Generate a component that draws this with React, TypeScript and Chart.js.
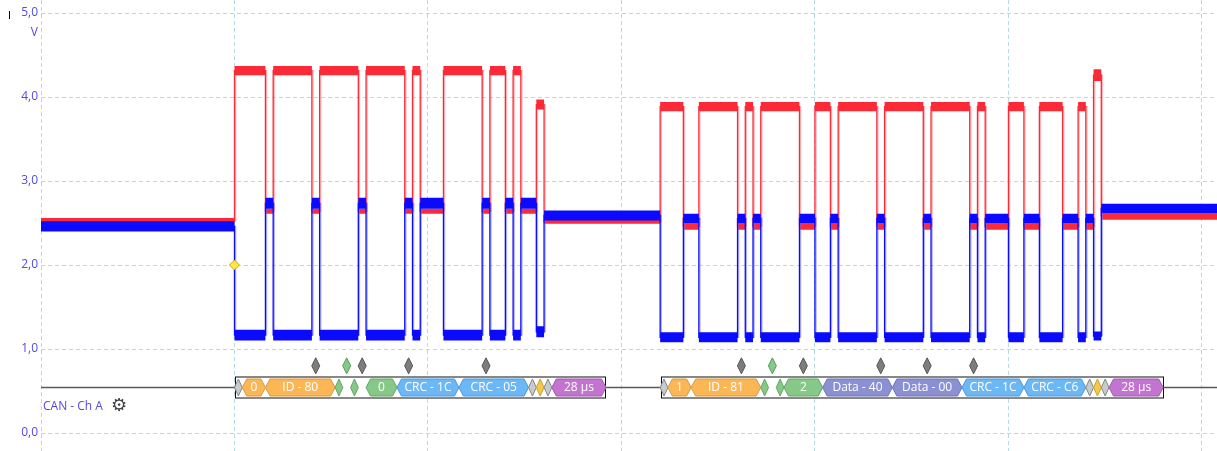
import React, { useEffect, useRef } from 'react';
import { Chart, registerables } from 'chart.js';

Chart.register(...registerables);

// ---------- axes ----------
const xTicks = [-50, 0, 50, 100, 150, 200, 250]; // µs, one division = 50 µs
const yTicks = [0, 1, 2, 3, 4, 5]; // V
const X_MIN = -50;
const X_MAX = 253.9;
const Y_MIN = -0.214;
const Y_MAX = 5.155;

// ---------- waveform (edge times in µs, alternating dominant / recessive start, last = back to idle) ----------
const frame1Edges = [0, 8, 10, 20, 22, 32, 34, 44, 46, 48, 54, 64, 66, 70, 72, 74, 78, 80];
const frame2Edges = [110, 116, 120, 130, 132, 134, 136, 146, 150, 154, 156, 166, 168, 178, 180, 190, 192, 194, 200, 204, 208, 214, 218, 220, 222, 224];
const idleSpans = [[X_MIN, 0], [80, 110], [224, X_MAX]];

// levels [low, high] in V
const canHIdle = [[2.49, 2.56], [2.49, 2.54], [2.54, 2.63]];
const canLIdle = [[2.40, 2.52], [2.53, 2.65], [2.62, 2.73]];
const canHDominant = [[4.26, 4.37], [3.83, 3.94]];
const canLDominant = [[1.10, 1.23], [1.08, 1.20]];
const canHRecessive = [[2.61, 2.67], [2.42, 2.50]];
const canLRecessive = [[2.67, 2.80], [2.50, 2.61]];
const canHAck = [[3.85, 3.97], [4.19, 4.33]];
const canLAck = [[1.14, 1.27], [1.10, 1.21]];

// ---------- decoded fields [kind, from µs, to µs, label] ----------
const frame1Fields: [string, number, number, string][] = [
  ['delim', 0, 2, ''],
  ['id', 2, 8, '0'],
  ['id', 8, 26, 'ID - 80'],
  ['ctrl', 26, 28, ''],
  ['ctrl', 30, 32, ''],
  ['ctrl', 34, 42, '0'],
  ['crc', 42, 58, 'CRC - 1C'],
  ['crc', 58, 76, 'CRC - 05'],
  ['delim', 76, 78, ''],
  ['ack', 78, 80, ''],
  ['delim', 80, 82, ''],
  ['ifs', 82, 96, '28 µs'],
];
const frame2Fields: [string, number, number, string][] = [
  ['delim', 110, 112, ''],
  ['id', 112, 118, '1'],
  ['id', 118, 136, 'ID - 81'],
  ['ctrl', 136, 138, ''],
  ['ctrl', 140, 142, ''],
  ['ctrl', 142, 152, '2'],
  ['data', 152, 170, 'Data - 40'],
  ['data', 170, 188, 'Data - 00'],
  ['crc', 188, 204, 'CRC - 1C'],
  ['crc', 204, 220, 'CRC - C6'],
  ['delim', 220, 222, ''],
  ['ack', 222, 224, ''],
  ['delim', 224, 226, ''],
  ['ifs', 226, 240, '28 µs'],
];
const stuffMarks = [21, 33, 45, 65, 131, 147, 167, 179, 191];
const stuffMarksGreen = [29, 139];

const decodeLevel = 0.548; // V position of the decode bar
const markerLevel = 0.80;
const channelLabel = 'CAN - Ch A';
const unitLabel = 'V';

// ---------- styles ----------
const RED = '#fb2a36';
const BLUE = '#0a0aff';
const TEXT_BLUE = '#5348e4';
const GRID = '#b4dbe6';
const FIELD_FILL: Record<string, string> = {
  delim: '#c7cbce',
  id: '#fbb656',
  ctrl: '#86c888',
  crc: '#6cb8f6',
  data: '#8b90d2',
  ack: '#f6c848',
  ifs: '#c374d0',
};
const FIELD_STROKE: Record<string, string> = {
  delim: '#858585',
  id: '#d99a45',
  ctrl: '#62a865',
  crc: '#4f98d6',
  data: '#6f74b6',
  ack: '#c9a030',
  ifs: '#a159ae',
};

type Seg = { from: number; to: number; lo: number; hi: number };

function frameSegments(edges: number[], dom: number[], rec: number[], ack: number[]): Seg[] {
  const out: Seg[] = [];
  for (let i = 0; i < edges.length - 1; i++) {
    const lvl = i % 2 === 0 ? (i === edges.length - 2 ? ack : dom) : rec;
    out.push({ from: edges[i], to: edges[i + 1], lo: lvl[0], hi: lvl[1] });
  }
  return out;
}

function signalSegments(idle: number[][], dom: number[][], rec: number[][], ack: number[][]): Seg[] {
  return [
    { from: idleSpans[0][0], to: idleSpans[0][1], lo: idle[0][0], hi: idle[0][1] },
    ...frameSegments(frame1Edges, dom[0], rec[0], ack[0]),
    { from: idleSpans[1][0], to: idleSpans[1][1], lo: idle[1][0], hi: idle[1][1] },
    ...frameSegments(frame2Edges, dom[1], rec[1], ack[1]),
    { from: idleSpans[2][0], to: idleSpans[2][1], lo: idle[2][0], hi: idle[2][1] },
  ];
}

function toPoints(segs: Seg[], f: (s: Seg) => number) {
  return segs.flatMap((s) => [
    { x: s.from, y: f(s) },
    { x: s.to, y: f(s) },
  ]);
}

function signalDatasets(segs: Seg[], color: string, halo: string) {
  return [
    {
      data: toPoints(segs, (s) => s.hi),
      borderWidth: 0,
      borderColor: 'rgba(0,0,0,0)',
      pointRadius: 0,
      fill: false,
    },
    {
      data: toPoints(segs, (s) => s.lo),
      borderWidth: 0,
      borderColor: 'rgba(0,0,0,0)',
      backgroundColor: color,
      pointRadius: 0,
      fill: '-1',
    },
    {
      data: toPoints(segs, (s) => (s.lo + s.hi) / 2),
      borderWidth: 1.3,
      borderColor: color,
      pointRadius: 0,
      fill: false,
    },
    {
      data: toPoints(segs, (s) => (s.lo + s.hi) / 2).map((p) => ({ x: p.x + 0.3, y: p.y })),
      borderWidth: 1.2,
      borderColor: halo,
      pointRadius: 0,
      fill: false,
    },
  ];
}

function hexPath(ctx: CanvasRenderingContext2D, x0: number, x1: number, yc: number, h: number, d: number) {
  const dd = Math.min(d, (x1 - x0) / 2);
  ctx.beginPath();
  ctx.moveTo(x0, yc);
  ctx.lineTo(x0 + dd, yc - h);
  ctx.lineTo(x1 - dd, yc - h);
  ctx.lineTo(x1, yc);
  ctx.lineTo(x1 - dd, yc + h);
  ctx.lineTo(x0 + dd, yc + h);
  ctx.closePath();
}

const decodePlugin = {
  id: 'decodeBar',
  afterDatasetsDraw(chart: any) {
    const { ctx, chartArea } = chart;
    const xs = chart.scales.x;
    const ys = chart.scales.y;
    const yc = Math.round(ys.getPixelForValue(decodeLevel)) + 0.5;
    ctx.save();
    // bus line
    ctx.strokeStyle = '#5a5a5a';
    ctx.lineWidth = 1.5;
    ctx.beginPath();
    ctx.moveTo(chartArea.left, yc);
    ctx.lineTo(chartArea.right, yc);
    ctx.stroke();

    const frames = [frame1Fields, frame2Fields];
    for (const fields of frames) {
      const bx0 = xs.getPixelForValue(fields[0][1]) + 1;
      const bx1 = xs.getPixelForValue(fields[fields.length - 1][2]);
      ctx.fillStyle = '#ffffff';
      ctx.fillRect(bx0, yc - 10.5, bx1 - bx0, 21);
      ctx.strokeStyle = '#111';
      ctx.lineWidth = 1;
      ctx.strokeRect(Math.round(bx0) + 0.5, yc - 10.5, Math.round(bx1 - bx0), 21);
      for (const [kind, a, b, label] of fields) {
        const x0 = xs.getPixelForValue(a);
        const x1 = xs.getPixelForValue(b);
        hexPath(ctx, x0, x1, yc, 8.5, 4.5);
        ctx.fillStyle = FIELD_FILL[kind];
        ctx.fill();
        ctx.strokeStyle = FIELD_STROKE[kind];
        ctx.lineWidth = 1;
        ctx.stroke();
        if (label) {
          ctx.fillStyle = '#ffffff';
          ctx.font = '12px "Open Sans"';
          ctx.textAlign = 'center';
          ctx.textBaseline = 'middle';
          ctx.fillText(label, (x0 + x1) / 2, yc + 0.5);
        }
      }
    }

    // stuff-bit markers
    const my = ys.getPixelForValue(markerLevel);
    const drawMark = (t: number, fill: string, stroke: string) => {
      const mx = xs.getPixelForValue(t);
      ctx.beginPath();
      ctx.moveTo(mx, my - 8);
      ctx.lineTo(mx + 4, my);
      ctx.lineTo(mx, my + 8);
      ctx.lineTo(mx - 4, my);
      ctx.closePath();
      ctx.fillStyle = fill;
      ctx.fill();
      ctx.strokeStyle = stroke;
      ctx.lineWidth = 1;
      ctx.stroke();
    };
    stuffMarks.forEach((t) => drawMark(t, '#7d7d7d', '#555'));
    stuffMarksGreen.forEach((t) => drawMark(t, '#86c888', '#5a9a5c'));

    // trigger diamond
    const tx = xs.getPixelForValue(0);
    const ty = ys.getPixelForValue(2);
    ctx.beginPath();
    ctx.moveTo(tx, ty - 5);
    ctx.lineTo(tx + 5, ty);
    ctx.lineTo(tx, ty + 5);
    ctx.lineTo(tx - 5, ty);
    ctx.closePath();
    ctx.fillStyle = '#ffe94a';
    ctx.fill();
    ctx.strokeStyle = '#c9a400';
    ctx.stroke();

    // channel label + gear
    const ly = ys.getPixelForValue(0.32);
    ctx.fillStyle = TEXT_BLUE;
    ctx.font = '12px "Open Sans"';
    ctx.textAlign = 'left';
    ctx.textBaseline = 'middle';
    ctx.fillText(channelLabel, chartArea.left + 2, ly);
    const w = ctx.measureText(channelLabel).width;
    ctx.fillStyle = '#444';
    ctx.font = 'bold 18px "DejaVu Sans"';
    ctx.fillText('⚙', chartArea.left + 2 + w + 8, ly);

    // unit label under top tick
    ctx.fillStyle = TEXT_BLUE;
    ctx.font = '12px "Open Sans"';
    ctx.textAlign = 'right';
    ctx.fillText(unitLabel, chartArea.left - 3, ys.getPixelForValue(5) + 20);

    // small cursor tick at top-left
    ctx.strokeStyle = '#000';
    ctx.lineWidth = 1;
    ctx.beginPath();
    ctx.moveTo(9.5, 11);
    ctx.lineTo(9.5, 19);
    ctx.stroke();
    ctx.restore();
  },
};

export default function App() {
  const ref = useRef<HTMLCanvasElement>(null);
  useEffect(() => {
    document.body.style.margin = '0';
    const blue = signalSegments(canLIdle, canLDominant, canLRecessive, canLAck);
    const red = signalSegments(canHIdle, canHDominant, canHRecessive, canHAck);
    const chart = new Chart(ref.current!, {
      type: 'line',
      data: {
        datasets: [
          ...signalDatasets(blue, BLUE, 'rgba(110,110,255,0.55)'),
          ...signalDatasets(red, RED, 'rgba(255,120,130,0.55)'),
        ] as any,
      },
      options: {
        animation: false,
        responsive: false,
        maintainAspectRatio: false,
        parsing: false,
        normalized: true,
        layout: { padding: 0 },
        plugins: { legend: { display: false }, tooltip: { enabled: false } },
        elements: { line: { tension: 0 } },
        scales: {
          x: {
            type: 'linear',
            min: X_MIN,
            max: X_MAX,
            ticks: { display: false },
            grid: { color: GRID, drawTicks: false, lineWidth: 1 },
            border: { display: false, dash: [4, 3] },
            afterBuildTicks: (s: any) => {
              s.ticks = xTicks.map((v) => ({ value: v }));
            },
            afterFit: (s: any) => {
              s.height = 0;
              s.paddingLeft = 0;
              s.paddingRight = 0;
            },
          },
          y: {
            type: 'linear',
            min: Y_MIN,
            max: Y_MAX,
            ticks: {
              color: TEXT_BLUE,
              font: { family: 'Open Sans', size: 12 },
              padding: 3,
              callback: (v: any) => Number(v).toFixed(1).replace('.', ','),
            },
            grid: { color: GRID, drawTicks: false, lineWidth: 1 },
            border: { display: false, dash: [4, 3] },
            afterBuildTicks: (s: any) => {
              s.ticks = yTicks.map((v) => ({ value: v }));
            },
            afterFit: (s: any) => {
              s.width = 41;
              s.paddingTop = 0;
              s.paddingBottom = 0;
            },
          },
        },
      },
      plugins: [decodePlugin],
    });
    return () => chart.destroy();
  }, []);
  return (
    <div style={{ position: 'fixed', left: 0, top: 0, width: 1217, height: 451, background: '#fff' }}>
      <canvas ref={ref} width={1217} height={451} />
    </div>
  );
}
